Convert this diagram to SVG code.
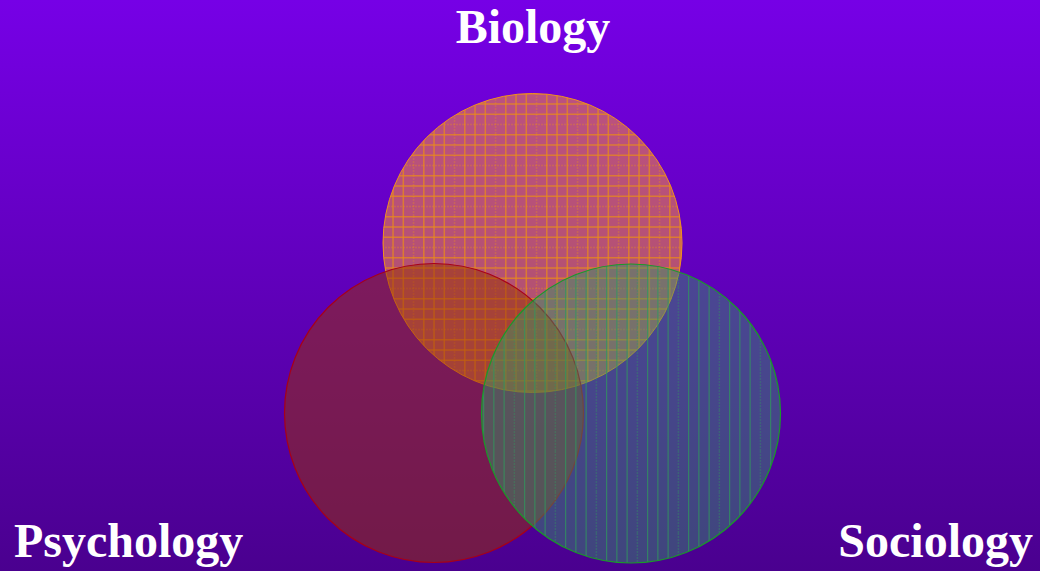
<svg xmlns="http://www.w3.org/2000/svg" width="1040" height="571" viewBox="0 0 1040 571">
  <defs>
    <linearGradient id="bg" x1="0" y1="0" x2="0" y2="1">
      <stop offset="0" stop-color="#7600e6"/>
      <stop offset="1" stop-color="#4a008f"/>
    </linearGradient>
    <pattern id="gridBio" patternUnits="userSpaceOnUse" x="13" y="11" width="41" height="41">
      <g stroke="#e8881c" stroke-width="1.5" stroke-opacity="0.75">
        <line x1="0.8" y1="0" x2="0.8" y2="41"/>
        <line x1="11.05" y1="0" x2="11.05" y2="41"/>
        <line x1="21.3" y1="0" x2="21.3" y2="41"/>
        <line x1="0" y1="0.8" x2="41" y2="0.8"/>
        <line x1="0" y1="11.05" x2="41" y2="11.05"/>
        <line x1="0" y1="21.3" x2="41" y2="21.3"/>
      </g>
      <g stroke="#e8881c" stroke-width="1.5" stroke-opacity="0.35" stroke-dasharray="2 1">
        <line x1="31.55" y1="0" x2="31.55" y2="41"/>
        <line x1="0" y1="31.55" x2="41" y2="31.55"/>
      </g>
    </pattern>
    <pattern id="gridSoc" patternUnits="userSpaceOnUse" x="-9" y="0" width="41" height="41">
      <g stroke="#2e9a5c" stroke-width="1.2" stroke-opacity="0.7">
        <line x1="0.6" y1="0" x2="0.6" y2="41"/>
        <line x1="10.85" y1="0" x2="10.85" y2="41"/>
        <line x1="21.1" y1="0" x2="21.1" y2="41"/>
      </g>
      <line x1="31.35" y1="0" x2="31.35" y2="41" stroke="#2e9a5c" stroke-width="1.4" stroke-opacity="0.35" stroke-dasharray="2 1"/>
    </pattern>
    <style>
      .lbl { font-family: "Liberation Serif", "Times New Roman", serif; font-weight: bold; font-size: 48px; fill: #ffffff; }
    </style>
  </defs>
  <rect x="0" y="0" width="1040" height="571" fill="url(#bg)"/>

  <g id="biology">
    <circle cx="532.5" cy="243" r="149.5" fill="#ff9933" fill-opacity="0.53"/>
    <circle cx="532.5" cy="243" r="149.5" fill="url(#gridBio)"/>
    <circle cx="532.5" cy="243" r="149.5" fill="none" stroke="#f09020" stroke-width="1"/>
  </g>
  <g id="psychology">
    <circle cx="434" cy="413" r="149.5" fill="#993300" fill-opacity="0.5"/>
    <circle cx="434" cy="413" r="149.5" fill="none" stroke="#a80018" stroke-width="1.2"/>
  </g>
  <g id="sociology">
    <circle cx="631" cy="413.5" r="149.5" fill="#339966" fill-opacity="0.46"/>
    <circle cx="631" cy="413.5" r="149.5" fill="url(#gridSoc)"/>
    <circle cx="631" cy="413.5" r="149.5" fill="none" stroke="#1a9a2a" stroke-width="1.2"/>
  </g>

  <g id="labels">
    <text class="lbl" x="533" y="43" text-anchor="middle">Biology</text>
    <text class="lbl" x="14" y="557">Psychology</text>
    <text class="lbl" x="1033" y="557" text-anchor="end">Sociology</text>
  </g>
</svg>
